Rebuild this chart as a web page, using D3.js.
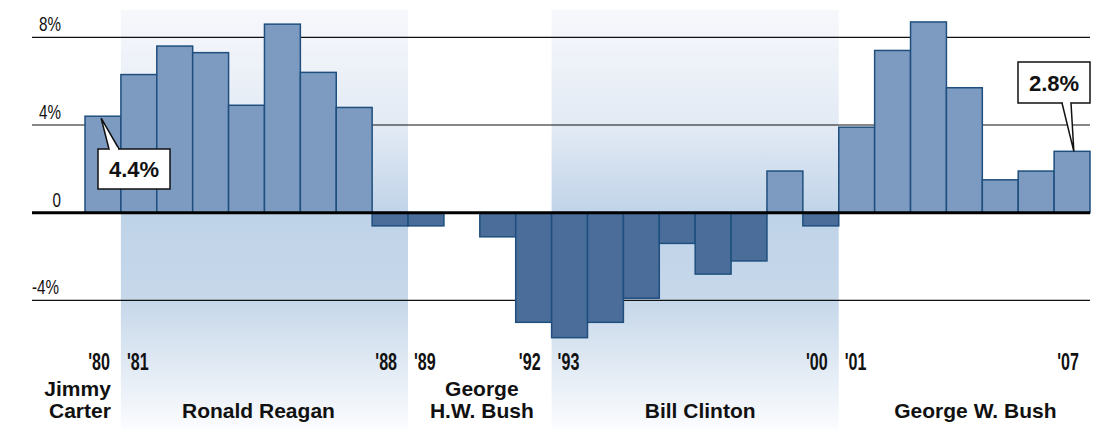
<!DOCTYPE html>
<html>
<head>
<meta charset="utf-8">
<script src="https://cdn.jsdelivr.net/npm/d3@7"></script>
<style>
  html, body { margin: 0; padding: 0; background: #fff; }
  svg { display: block; }
  .tick-label { font-family: "Liberation Sans", Arial, sans-serif; font-size: 20px; fill: #111; }
  .year-label { font-family: "Liberation Sans", Arial, sans-serif; font-size: 23px; font-weight: bold; fill: #111; }
  .name-label { font-family: "Liberation Sans", Arial, sans-serif; font-size: 21px; font-weight: bold; fill: #111; }
  .callout-text { font-family: "Liberation Sans", Arial, sans-serif; font-size: 22px; font-weight: bold; fill: #111; }
</style>
</head>
<body>
<svg id="chart" width="1095" height="429"></svg>
<script>
// Annual percentage change, 1980–2007
const years = [1980, 1981, 1982, 1983, 1984, 1985, 1986, 1987, 1988, 1989,
               1990, 1991, 1992, 1993, 1994, 1995, 1996, 1997, 1998, 1999,
               2000, 2001, 2002, 2003, 2004, 2005, 2006, 2007];
const values = [4.4, 6.3, 7.6, 7.3, 4.9, 8.6, 6.4, 4.8, -0.6, -0.6,
                0.0, -1.1, -5.0, -5.7, -5.0, -3.9, -1.4, -2.8, -2.2, 1.9,
                -0.6, 3.9, 7.4, 8.7, 5.7, 1.5, 1.9, 2.8];

// Gridline values and their labels
const gridValues = [8, 4, 0, -4];
const gridLabels = ["8%", "4%", "0", "-4%"];

// Year labels at the edges of each term
const yearMarks = [
  { year: 1980, text: "'80", side: "end" },
  { year: 1981, text: "'81", side: "start" },
  { year: 1988, text: "'88", side: "end" },
  { year: 1989, text: "'89", side: "start" },
  { year: 1992, text: "'92", side: "end" },
  { year: 1993, text: "'93", side: "start" },
  { year: 2000, text: "'00", side: "end" },
  { year: 2001, text: "'01", side: "start" },
  { year: 2007, text: "'07", side: "end" }
];

// Presidents and their terms in the chart
const presidents = [
  { first: 1980, last: 1980, lines: ["Jimmy", "Carter"], shaded: false },
  { first: 1981, last: 1988, lines: ["Ronald Reagan"], shaded: true },
  { first: 1989, last: 1992, lines: ["George", "H.W. Bush"], shaded: false },
  { first: 1993, last: 2000, lines: ["Bill Clinton"], shaded: true },
  { first: 2001, last: 2007, lines: ["George W. Bush"], shaded: false }
];

// Called-out values
const callouts = [
  { year: 1980, text: "4.4%" },
  { year: 2007, text: "2.8%" }
];

const svg = d3.select("#chart");
const W = 1095, H = 429;

const x = d3.scaleBand().domain(years).range([85, 1090]).paddingInner(0).paddingOuter(0);
const y = d3.scaleLinear().domain([-4, 8]).range([300.4, 37.3]);
const bw = x.bandwidth();

// Shading gradient for the highlighted terms
const defs = svg.append("defs");
const grad = defs.append("linearGradient")
  .attr("id", "termShade")
  .attr("gradientUnits", "userSpaceOnUse")
  .attr("x1", 0).attr("x2", 0).attr("y1", 10).attr("y2", H);
grad.append("stop").attr("offset", 0).attr("stop-color", "#f7f8fc");
grad.append("stop").attr("offset", 0.28).attr("stop-color", "#e2eaf4");
grad.append("stop").attr("offset", 0.49).attr("stop-color", "#bfd3e8");
grad.append("stop").attr("offset", 0.70).attr("stop-color", "#c7d8ea");
grad.append("stop").attr("offset", 1).attr("stop-color", "#fbfcfe");

svg.append("g").selectAll("rect")
  .data(presidents.filter(p => p.shaded))
  .join("rect")
  .attr("x", d => x(d.first))
  .attr("width", d => x(d.last) + bw - x(d.first))
  .attr("y", 10)
  .attr("height", H - 10)
  .attr("fill", "url(#termShade)");

// Gridlines (the zero line is drawn later, above the bars)
svg.append("g").selectAll("line")
  .data(gridValues.filter(v => v !== 0))
  .join("line")
  .attr("x1", 32).attr("x2", 1090)
  .attr("y1", d => y(d)).attr("y2", d => y(d))
  .attr("stroke", "#111").attr("stroke-width", 1.2);

// Gridline labels, condensed
svg.append("g").selectAll("text")
  .data(gridValues)
  .join("text")
  .attr("class", "tick-label")
  .attr("text-anchor", d => d < 0 ? "start" : "end")
  .attr("transform", d => `translate(${d < 0 ? 32 : 61},${y(d) - 6}) scale(0.76,1)`)
  .text((d, i) => gridLabels[i]);

// Bars
svg.append("g").selectAll("rect")
  .data(years.map((yr, i) => ({ year: yr, value: values[i] })).filter(d => d.value !== 0))
  .join("rect")
  .attr("x", d => x(d.year))
  .attr("width", bw)
  .attr("y", d => y(Math.max(0, d.value)))
  .attr("height", d => Math.abs(y(d.value) - y(0)))
  .attr("fill", d => d.value >= 0 ? "#7d9bc0" : "#4a6d99")
  .attr("stroke", "#1f4f7e")
  .attr("stroke-width", 1.5);

// Zero line
svg.append("line")
  .attr("x1", 32).attr("x2", 1090)
  .attr("y1", y(0)).attr("y2", y(0))
  .attr("stroke", "#000").attr("stroke-width", 3);

// Year labels, condensed
svg.append("g").selectAll("text")
  .data(yearMarks)
  .join("text")
  .attr("class", "year-label")
  .attr("text-anchor", d => d.side)
  .attr("transform", d => {
    const tx = d.side === "start" ? x(d.year) + 6 : x(d.year) + bw - 11;
    return `translate(${tx},370) scale(0.70,1)`;
  })
  .text(d => d.text);

// President names, nudged off the centre of each term
const nameShift = { 1980: 0, 1981: -6, 1989: 2, 1993: 5, 2001: 11 };
const nameG = svg.append("g");
presidents.forEach(p => {
  const twoLines = p.lines.length > 1;
  const isFirst = p.first === years[0];
  const t = nameG.append("text")
    .attr("class", "name-label")
    .attr("text-anchor", isFirst ? "end" : "middle");
  const cx = isFirst ? x(p.first) + bw - 10 : (x(p.first) + x(p.last) + bw) / 2 + nameShift[p.first];
  p.lines.forEach((ln, i) => {
    t.append("tspan")
      .attr("x", cx)
      .attr("y", twoLines ? 396 + i * 22 : 418)
      .text(ln);
  });
});

// Callout boxes with pointers
const calloutSpec = {
  1980: { bx: 98, by: 149, bw: 72, bh: 40, tipFrac: 0.45, tipDy: 2, baseL: 109, baseR: 119, below: true },
  2007: { bx: 1018, by: 62, bw: 72, bh: 41, tipFrac: 0.55, tipDy: 0, baseL: 1062, baseR: 1071, below: false }
};
const cg = svg.append("g");
callouts.forEach(c => {
  const s = calloutSpec[c.year];
  const i = years.indexOf(c.year);
  const tipX = x(c.year) + bw * s.tipFrac;
  const tipY = y(values[i]) + s.tipDy;
  cg.append("rect")
    .attr("x", s.bx).attr("y", s.by).attr("width", s.bw).attr("height", s.bh)
    .attr("fill", "#fff").attr("stroke", "#111").attr("stroke-width", 1.5);
  const edgeY = s.below ? s.by : s.by + s.bh;
  cg.append("path")
    .attr("d", `M${s.baseL},${edgeY} L${tipX},${tipY} L${s.baseR},${edgeY}`)
    .attr("fill", "#fff").attr("stroke", "#111").attr("stroke-width", 1.5);
  cg.append("line")
    .attr("x1", s.baseL + 1).attr("x2", s.baseR - 1)
    .attr("y1", edgeY).attr("y2", edgeY)
    .attr("stroke", "#fff").attr("stroke-width", 2.5);
  cg.append("text")
    .attr("class", "callout-text")
    .attr("x", s.bx + s.bw / 2)
    .attr("y", s.by + s.bh / 2 + 8)
    .attr("text-anchor", "middle")
    .text(c.text);
});
</script>
</body>
</html>
